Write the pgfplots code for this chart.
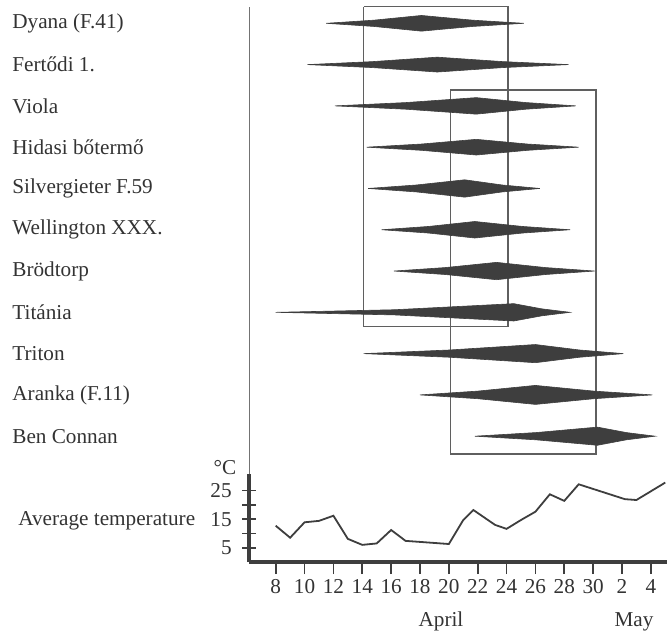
\documentclass[border=0pt]{standalone}
\usepackage{pgfplots}
\pgfplotsset{compat=1.18}
\usepackage{fontspec}
\setmainfont{Liberation Serif}
\definecolor{ink}{RGB}{62,62,62}
\definecolor{boxc}{RGB}{95,95,95}
\newcommand{\lab}{\fontsize{10.6}{12.5}\selectfont}
\begin{document}
\begin{tikzpicture}[x=1pt,y=1pt]
\useasboundingbox (0,0) rectangle (336,316);
% ---------------- flowering periods ----------------
\begin{axis}[at={(124.65pt,78.5pt)}, anchor=south west, scale only axis,
  width=208.7pt, height=234.1pt,
  xmin=6.17, xmax=35.1, ymin=-10.94, ymax=0.4,
  axis x line=none, axis y line*=left,
  axis line style={line width=0.7pt, black!55},
  ytick={0,-1,-2,-3,-4,-5,-6,-7,-8,-9,-10},
  yticklabels={Dyana (F.41),Fertődi 1.,Viola,Hidasi bőtermő,Silvergieter F.59,Wellington XXX.,Brödtorp,Titánia,Triton,Aranka (F.11),Ben Connan},
  major tick length=0pt,
  yticklabel style={anchor=west, xshift=-121.98pt, font=\lab, text=black!80},
  clip=false]
% boxes
\addplot[boxc, line width=0.6pt] coordinates {(14.1,0.40) (24.1,0.40) (24.1,-7.35) (14.1,-7.35) (14.1,0.40)};
\addplot[boxc, line width=0.6pt] coordinates {(20.1,-1.615) (30.2,-1.615) (30.2,-10.43) (20.1,-10.43) (20.1,-1.615)};
% diamonds
\addplot[fill=ink, draw=ink, line width=0.3pt] coordinates {(11.5,0) (14.8,0.076) (18.1,0.19) (21.65,0.076) (25.2,0) (21.65,-0.076) (18.1,-0.19) (14.8,-0.076)} -- cycle;
\addplot[fill=ink, draw=ink, line width=0.3pt] coordinates {(10.2,-1) (14.7,-0.928) (19.2,-0.82) (23.75,-0.928) (28.3,-1) (23.75,-1.072) (19.2,-1.18) (14.7,-1.072)} -- cycle;
\addplot[fill=ink, draw=ink, line width=0.3pt] coordinates {(12.1,-2) (17.0,-1.92) (21.9,-1.8) (25.35,-1.92) (28.8,-2) (25.35,-2.08) (21.9,-2.2) (17.0,-2.08)} -- cycle;
\addplot[fill=ink, draw=ink, line width=0.3pt] coordinates {(14.3,-3) (18.1,-2.924) (21.9,-2.81) (25.45,-2.924) (29.0,-3) (25.45,-3.076) (21.9,-3.19) (18.1,-3.076)} -- cycle;
\addplot[fill=ink, draw=ink, line width=0.3pt] coordinates {(14.4,-4) (17.75,-3.916) (21.1,-3.79) (23.7,-3.916) (26.3,-4) (23.7,-4.084) (21.1,-4.21) (17.75,-4.084)} -- cycle;
\addplot[fill=ink, draw=ink, line width=0.3pt] coordinates {(15.35,-5) (18.6,-4.92) (21.8,-4.8) (25.1,-4.92) (28.4,-5) (25.1,-5.08) (21.8,-5.2) (18.6,-5.08)} -- cycle;
\addplot[fill=ink, draw=ink, line width=0.3pt] coordinates {(16.2,-6) (19.75,-5.916) (23.3,-5.79) (26.7,-5.916) (30.1,-6) (26.7,-6.084) (23.3,-6.21) (19.75,-6.084)} -- cycle;
\addplot[fill=ink, draw=ink, line width=0.3pt] coordinates {(8.0,-7) (16.25,-6.937) (24.5,-6.79) (26.45,-6.916) (28.4,-7) (26.45,-7.084) (24.5,-7.21) (16.25,-7.063)} -- cycle;
\addplot[fill=ink, draw=ink, line width=0.3pt] coordinates {(14.1,-8) (20.05,-7.912) (26.0,-7.78) (29.05,-7.912) (32.1,-8) (29.05,-8.088) (26.0,-8.22) (20.05,-8.088)} -- cycle;
\addplot[fill=ink, draw=ink, line width=0.3pt] coordinates {(18.0,-9) (22.0,-8.908) (26.0,-8.77) (30.05,-8.908) (34.1,-9) (30.05,-9.092) (26.0,-9.23) (22.0,-9.092)} -- cycle;
\addplot[fill=ink, draw=ink, line width=0.3pt] coordinates {(21.8,-10) (26.05,-9.912) (30.3,-9.78) (32.3,-9.912) (34.3,-10) (32.3,-10.088) (30.3,-10.22) (26.05,-10.088)} -- cycle;
\end{axis}
% ---------------- temperature ----------------
\begin{axis}[at={(124.65pt,35pt)}, anchor=south west, scale only axis,
  width=208.7pt, height=44pt,
  xmin=6.17, xmax=35.1, ymin=0, ymax=30.8,
  axis x line*=bottom, axis y line*=left,
  axis line style={line width=2.1pt, ink},
  xtick={8,10,12,14,16,18,20,22,24,26,28,30,32,34},
  xticklabels={8,10,12,14,16,18,20,22,24,26,28,30,2,4},
  ytick={5,10,15,20,25}, yticklabels={5,,15,,25},
  tick align=outside, major tick length=7pt,
  x tick style={line width=0.9pt, ink, yshift=1pt},
  y tick style={line width=0.9pt, ink, xshift=3.5pt},
  /pgf/number format/assume math mode=true,
  tick label style={font=\lab, text=black!80},
  xticklabel style={yshift=1.7pt},
  yticklabel style={xshift=1.7pt},
  clip=false]
\addplot[ink, line width=0.9pt] coordinates {
(8,12.7) (9,8.5) (10,13.9) (11,14.4) (12,16.2) (13,8.1) (14,6.0) (15,6.5)
(16,11.2) (17,7.4) (20,6.3) (21,14.7) (21.7,18.2) (23.2,13) (24,11.6) (25,14.7)
(26,17.6) (27,23.7) (28,21.4) (29,27.2) (32.2,22) (33,21.7) (35,27.8)};
\end{axis}
\node[font=\lab, text=black!80] at (112.5,82) {°C};
\node[font=\lab, text=black!80, anchor=west, inner sep=0pt] at (9,55.5) {Average temperature};
\node[font=\lab, text=black!80, anchor=base, inner sep=0pt] at (220.5,3) {April};
\node[font=\lab, text=black!80, anchor=base, inner sep=0pt] at (317,3) {May};
\end{tikzpicture}
\end{document}
